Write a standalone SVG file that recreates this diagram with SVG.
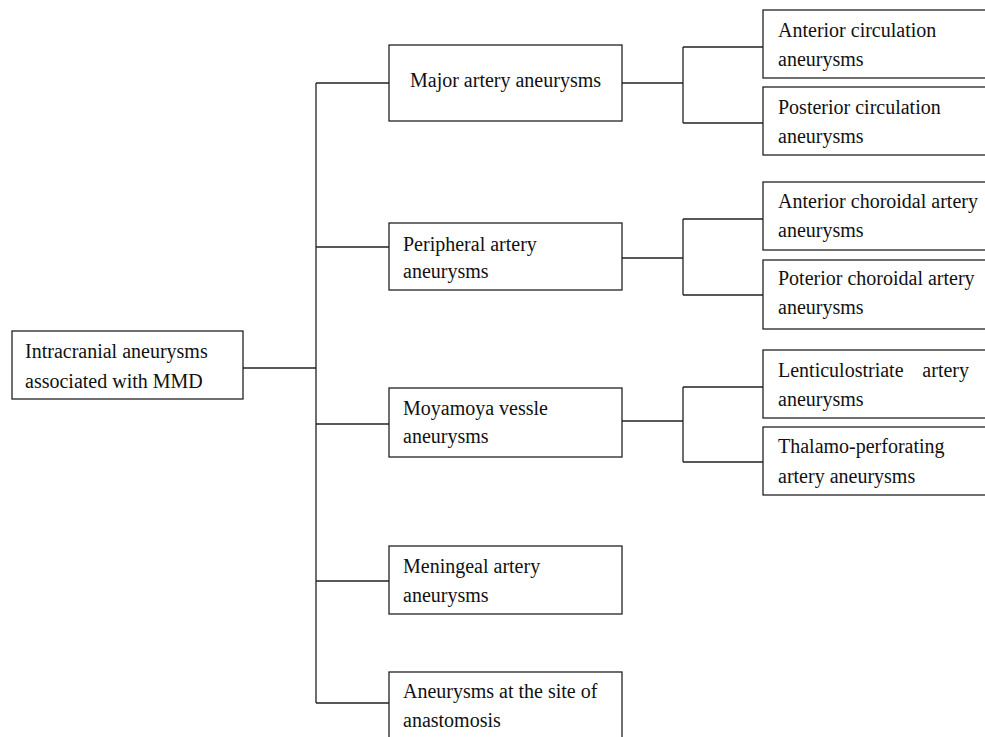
<svg xmlns="http://www.w3.org/2000/svg" width="985" height="737" viewBox="0 0 985 737">
<style>
rect{fill:#fff;stroke:#222;stroke-width:1.3}
text{font-family:"Liberation Serif","Times New Roman",serif;font-size:20px;fill:#111}
#connectors path{fill:none;stroke:#222;stroke-width:1.3}
</style>
<rect x="0" y="0" width="985" height="737" style="stroke:none"/>
<g id="connectors">
<path d="M243 368H316M316 83V703M316 83H389M316 247H389M316 424H389M316 581H389M316 703H389"/>
<path d="M622 83H683M683 47V123M683 47H763M683 123H763"/>
<path d="M622 258H683M683 219V295M683 219H763M683 295H763"/>
<path d="M622 421H683M683 387V462M683 387H763M683 462H763"/>
</g>
<g id="root">
<rect x="12" y="331" width="231" height="68"/>
<text x="25" y="358">Intracranial aneurysms</text>
<text x="25" y="388">associated with MMD</text>
</g>
<g id="major">
<rect x="389" y="45" width="233" height="76"/>
<text x="505.5" y="87" text-anchor="middle">Major artery aneurysms</text>
</g>
<g id="peripheral">
<rect x="389" y="223" width="233" height="67"/>
<text x="403" y="251">Peripheral artery</text>
<text x="403" y="278">aneurysms</text>
</g>
<g id="moyamoya">
<rect x="389" y="388" width="233" height="69"/>
<text x="403" y="415">Moyamoya vessle</text>
<text x="403" y="443">aneurysms</text>
</g>
<g id="meningeal">
<rect x="389" y="546" width="233" height="68"/>
<text x="403" y="573">Meningeal artery</text>
<text x="403" y="602">aneurysms</text>
</g>
<g id="anastomosis">
<rect x="389" y="672" width="233" height="80"/>
<text x="403" y="698">Aneurysms at the site of</text>
<text x="403" y="727">anastomosis</text>
</g>
<g id="anterior-circulation">
<rect x="763" y="10" width="230" height="68"/>
<text x="778" y="37">Anterior circulation</text>
<text x="778" y="66">aneurysms</text>
</g>
<g id="posterior-circulation">
<rect x="763" y="87" width="230" height="68"/>
<text x="778" y="114">Posterior circulation</text>
<text x="778" y="143">aneurysms</text>
</g>
<g id="anterior-choroidal">
<rect x="763" y="182" width="230" height="68"/>
<text x="778" y="208">Anterior choroidal artery</text>
<text x="778" y="237">aneurysms</text>
</g>
<g id="posterior-choroidal">
<rect x="763" y="260" width="230" height="69"/>
<text x="778" y="285">Poterior choroidal artery</text>
<text x="778" y="314">aneurysms</text>
</g>
<g id="lenticulostriate">
<rect x="763" y="350" width="230" height="68"/>
<text x="778" y="377">Lenticulostriate</text>
<text x="969" y="377" text-anchor="end">artery</text>
<text x="778" y="406">aneurysms</text>
</g>
<g id="thalamo-perforating">
<rect x="763" y="427" width="230" height="68"/>
<text x="778" y="453">Thalamo-perforating</text>
<text x="778" y="483">artery aneurysms</text>
</g>
</svg>
